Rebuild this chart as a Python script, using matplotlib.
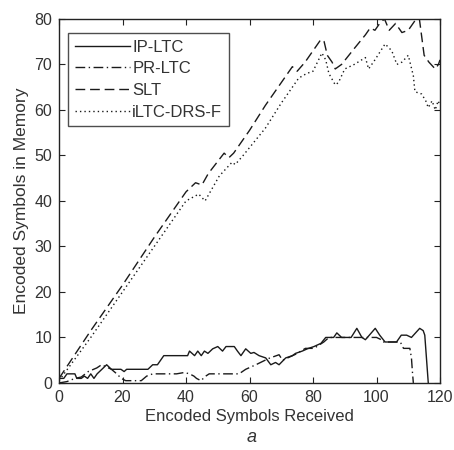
import matplotlib
matplotlib.use("Agg")
import matplotlib.pyplot as plt

# Series (x = symbols received, y = symbols in memory)
ip_x = [0, 1.5, 2.5, 5, 5.6, 7, 8, 9, 10, 11, 12, 13.5, 15, 16.5, 18, 19.5, 20.5, 21.3,
        28, 29.5, 31, 32, 33, 40.5, 41.1, 42.7, 43.7, 44.8, 45.8, 46.9, 48.4, 50, 51.5,
        52.6, 55.2, 56.2, 57.3, 58.8, 60.4, 61.4, 63, 65.1, 66.7, 68.2, 69.3, 71.4, 73.5,
        74.5, 76.6, 78.2, 80.3, 82.5, 84, 86.5, 87.5, 89, 92, 93.8, 95.4, 96.5, 99.6, 101,
        102.7, 106.3, 107.8, 109.5, 111, 113.6, 114.7, 115.2, 116.3]
ip_y = [1, 1, 2, 2, 1, 1, 1.5, 1, 2, 1, 2, 3, 4, 3, 3, 3, 2.5, 3,
        3, 4, 4, 5, 6, 6, 7, 6, 7, 6, 7, 6.5, 7.5, 8, 7,
        8, 8, 7, 6, 7.5, 6.5, 6.7, 6, 5.5, 4, 4.5, 4, 5.5, 6,
        6.5, 7, 7.5, 8, 8.7, 10, 10, 11, 10, 10, 12, 10, 9.5, 12, 10.5,
        9, 9, 10.5, 10.5, 10, 12, 11.5, 10.5, 0]

pr_x = [0, 2.5, 5, 7, 9.2, 11.9, 13.4, 15, 16.5, 18.2, 19.6, 21, 22.8, 25.9, 27.6, 29.5,
        37, 39.5, 41.1, 42.5, 43.3, 44.7, 46.2, 47.3, 56.7, 58.8, 62, 66.1, 69.3, 70.4,
        72, 74.5, 77.6, 80.3, 83.4, 85, 100, 101.5, 102, 107.5, 108.5, 110.5, 111, 111.3,
        111.6]
pr_y = [0, 0.3, 1, 1.3, 2.5, 3.3, 4, 3.5, 3, 2, 1, 0.5, 0.5, 0.5, 1.5, 2,
        2, 2.3, 2, 1.5, 1, 0.5, 1.5, 2, 2, 3, 4, 5.4, 6.2, 5,
        5.5, 6.3, 7.6, 7.6, 9, 10, 10, 9.5, 9, 9, 7.6, 7.6, 5.5, 2.5,
        0]

slt_x = [0, 10, 20, 30, 40, 43, 45, 47, 52, 53.5, 55, 60, 65, 70, 72.5, 73.5, 75, 77.5,
         82.5, 83.5, 84.5, 86, 87, 89, 93, 96.5, 98, 99.5, 101, 102.5, 104, 106, 108,
         110, 112.5, 113.5, 115, 116.5, 118.5, 119.5, 120]
slt_y = [1, 11.5, 21.5, 32, 42, 44, 43.5, 46, 50.5, 49.5, 50.5, 55.5, 61, 66, 68.5, 69.5,
         68.5, 70.5, 75.5, 75, 72, 70.5, 69, 70, 73.5, 76.5, 78, 77.5, 79, 80, 77.5, 79,
         77, 77.5, 80, 80, 72, 70.5, 69, 70, 71]

ilt_x = [0, 10, 20, 30, 40, 44, 46, 50.5, 54.5, 55.5, 58, 65, 70, 75.5, 78, 80, 82.8, 84,
         85, 87, 88, 90, 93, 96.5, 97.5, 99.5, 102.7, 104.8, 106.4, 108, 110, 111.6,
         112.1, 114.2, 115.5, 116.3, 117.5, 118.5, 119.4, 120]
ilt_y = [0.5, 10, 20, 30, 40, 41.5, 40, 45.5, 48.5, 48, 50, 56, 61.5, 67, 68, 68.5, 72.5,
         71, 68, 65.5, 66, 69, 70, 71.5, 69, 71, 74.5, 73, 70, 70.5, 72, 67.5,
         64, 63.5, 62, 60.5, 62, 60, 62, 61]

labels = ["IP-LTC", "PR-LTC", "SLT", "iLTC-DRS-F"]
xticks = [0, 20, 40, 60, 80, 100, 120]
yticks = [0, 10, 20, 30, 40, 50, 60, 70, 80]

plt.rcParams['font.family'] = ['Liberation Sans', 'DejaVu Sans']
plt.rcParams['font.size'] = 12

fig = plt.figure(figsize=(4.54, 4.5), dpi=100)
ax = fig.add_axes([0.130, 0.149, 0.8392, 0.809])

col = '#1a1a1a'
ax.plot(ip_x, ip_y, color=col, lw=1.0, linestyle='-', label=labels[0])
ax.plot(pr_x, pr_y, color=col, lw=1.0, linestyle=(0, (7, 2.5, 1, 2.5)), label=labels[1])
ax.plot(slt_x, slt_y, color=col, lw=1.0, linestyle=(0, (7, 3.5)), label=labels[2])
ax.plot(ilt_x, ilt_y, color=col, lw=1.0, linestyle=(0, (1, 2.2)), label=labels[3])

ax.set_xlim(0, 120)
ax.set_ylim(0, 80)
ax.set_xticks(xticks)
ax.set_yticks(yticks)
ax.tick_params(direction='in', length=4, top=True, right=True, colors='#222222',
               labelcolor='#333333', labelsize=11.5)
ax.tick_params(axis='x', pad=5)
ax.tick_params(axis='y', pad=5)
for s in ax.spines.values():
    s.set_color('#222222')
    s.set_linewidth(1.0)

ax.set_xlabel('Encoded Symbols Received', color='#333333', labelpad=3)
ax.set_ylabel('Encoded Symbols in Memory', color='#333333', labelpad=4, fontsize=12.5)
fig.text(0.554, 0.028, 'a', style='italic', ha='center', va='center', fontsize=13,
         color='#333333')

leg = ax.legend(loc='upper left', bbox_to_anchor=(0.0235, 0.9615), borderaxespad=0,
                fancybox=False, edgecolor='#222222', handlelength=3.3, handletextpad=0.15,
                labelspacing=0.4, borderpad=0.4, fontsize=12)
leg.get_frame().set_linewidth(1.0)
for t in leg.get_texts():
    t.set_color('#333333')

fig.savefig('out.png', dpi=100)
